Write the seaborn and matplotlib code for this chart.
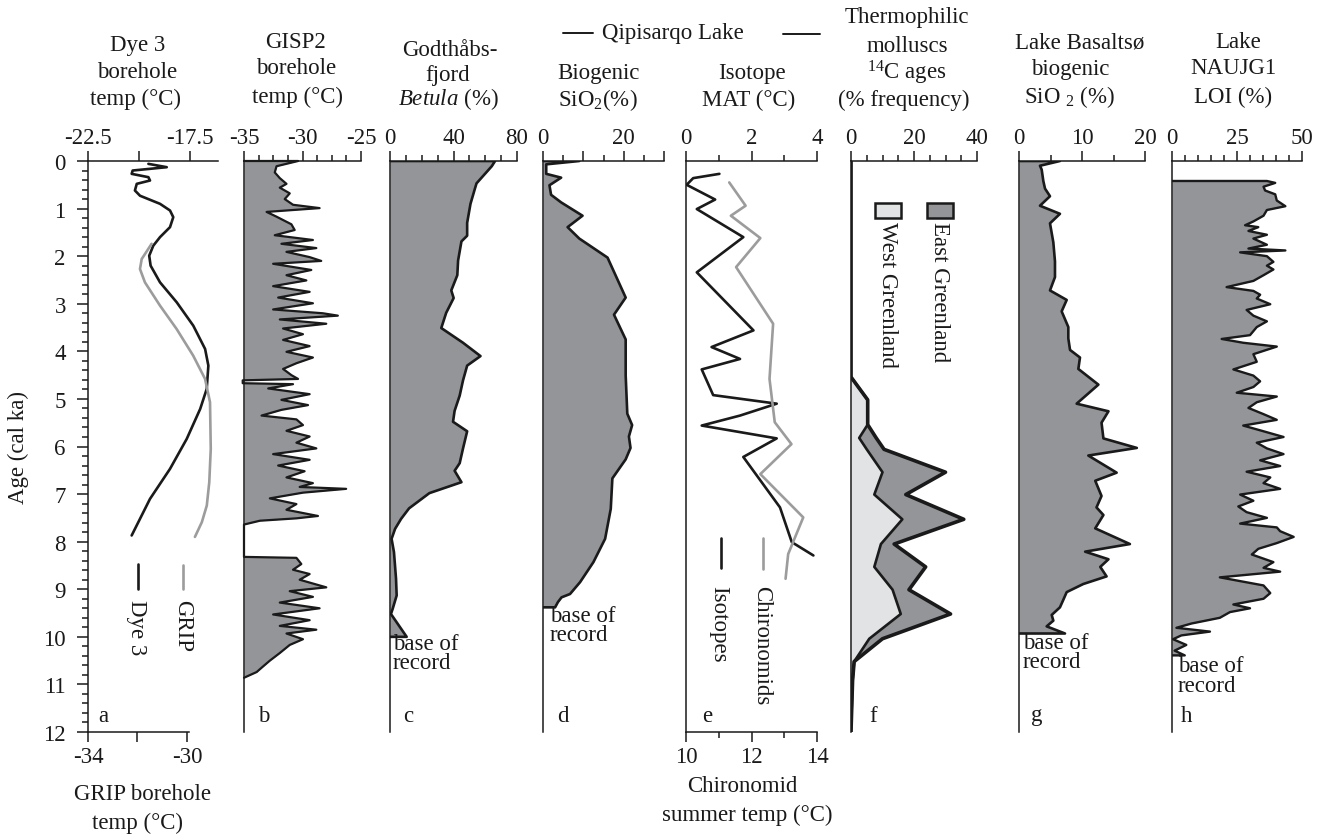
"""Holocene Greenland palaeoclimate records, stacked down-core panels a-h."""

import numpy as np
import matplotlib
matplotlib.use("Agg")
import matplotlib.pyplot as plt
from matplotlib.lines import Line2D
from matplotlib.patches import Rectangle
import seaborn as sns

# ---------------------------------------------------------------- data
# a: borehole temperatures (Dye 3 on top scale, GRIP on bottom scale)
dye3_age = [0.06, 0.13, 0.20, 0.27, 0.34, 0.41, 0.48, 0.62, 0.73, 0.90, 1.04, 1.18,
            1.39, 1.60, 1.78, 1.99, 2.20, 2.55, 2.97, 3.46, 3.95, 4.30, 4.79, 5.21,
            5.84, 6.47, 7.10, 7.87]
dye3_temp = [-19.54, -18.64, -20.31, -20.36, -19.54, -19.46, -20.11, -20.20, -19.95,
             -18.97, -18.48, -18.32, -18.48, -18.97, -19.30, -19.50, -19.43, -18.97,
             -18.15, -17.34, -16.76, -16.60, -16.68, -17.00, -17.66, -18.48, -19.46,
             -20.36]
grip_age = [1.74, 2.06, 2.27, 2.55, 3.04, 3.53, 4.09, 4.58, 5.07, 6.05, 6.75, 7.24, 7.59, 7.90]
grip_temp = [-31.43, -31.83, -31.90, -31.70, -31.09, -30.42, -29.75, -29.27, -29.07,
             -29.04, -29.10, -29.20, -29.40, -29.68]

# b: GISP2 borehole temperature
gisp_age = [0, 0.11, 0.24, 0.36, 0.48, 0.56, 0.68, 0.80, 0.92, 0.99,
            1.07, 1.17, 1.33, 1.45, 1.56, 1.66, 1.74, 1.83, 1.91, 2.02,
            2.10, 2.16, 2.29, 2.40, 2.51, 2.63, 2.75, 2.87, 2.99, 3.12,
            3.20, 3.25, 3.33, 3.42, 3.52, 3.64, 3.76, 3.89, 4.01, 4.13,
            4.25, 4.37, 4.50, 4.58, 4.61, 4.67, 4.69, 4.78, 4.90, 5.02,
            5.13, 5.23, 5.35, 5.43, 5.55, 5.67, 5.79, 5.92, 6.04, 6.16,
            6.28, 6.40, 6.52, 6.65, 6.77, 6.85, 6.89, 6.97, 7.09, 7.21,
            7.33, 7.46, 7.51, 7.56, 7.64, 8.32, 8.34, 8.47, 8.59, 8.68,
            8.80, 8.96, 9.04, 9.16, 9.28, 9.40, 9.53, 9.65, 9.77, 9.85,
            9.93, 10.05, 10.17, 10.34, 10.50, 10.62, 10.74, 10.86]
gisp_temp = [-30.38, -32.22, -32.37, -31.94, -31.37, -31.94, -31.09, -31.52, -30.81, -28.54,
             -33.07, -32.22, -30.95, -30.67, -32.37, -29.11, -31.80, -28.82, -31.37, -29.39,
             -28.40, -32.51, -29.25, -31.37, -29.67, -32.51, -29.39, -32.08, -29.11, -32.51,
             -28.26, -26.98, -31.94, -27.97, -31.66, -29.96, -31.66, -29.39, -31.37, -29.11,
             -30.52, -31.66, -30.95, -30.38, -35.11, -35.11, -30.81, -32.93, -29.39, -31.80,
             -29.53, -31.80, -33.50, -30.52, -29.96, -31.37, -29.39, -30.52, -28.82, -32.51,
             -29.39, -32.08, -29.82, -31.37, -29.11, -30.24, -26.27, -29.96, -32.79, -30.52,
             -31.37, -28.68, -30.52, -33.64, -35.00, -35.00, -30.52, -30.10, -30.81, -29.39,
             -30.24, -27.97, -31.09, -29.11, -31.94, -28.54, -32.51, -29.39, -31.94, -28.82,
             -31.37, -29.96, -31.09, -31.94, -32.79, -33.36, -33.92, -35.00]

# c: Godthåbsfjord Betula pollen
betula_age = [0.0, 0.11, 0.47, 0.58, 0.90, 1.30, 1.57, 1.69, 2.09, 2.40, 2.72, 2.88, 3.19,
              3.51, 3.82, 4.10, 4.30, 4.61, 4.93, 5.25, 5.48, 5.68, 6.04, 6.35, 6.51,
              6.75, 6.98, 7.30, 7.52, 7.73, 7.94, 8.22, 8.78, 9.13, 9.41, 9.52, 10.0]
betula_pct = [66.2, 64.1, 54.5, 53.5, 50.7, 48.6, 48.6, 45.0, 42.9, 42.4, 38.6, 40.1, 35.4,
              32.3, 46.0, 57.0, 48.6, 46.0, 43.9, 40.7, 39.7, 48.6, 46.0, 43.9, 40.7,
              45.0, 24.8, 12.0, 7.0, 3.2, 1.0, 2.5, 3.8, 4.2, 1.7, 0.6, 10.5]

# d: Qipisarqo Lake biogenic silica
qsio2_age = [0.0, 0.07, 0.27, 0.35, 0.51, 0.71, 0.87, 1.15, 1.39, 1.63, 2.03, 2.87, 3.23,
             3.75, 4.51, 5.31, 5.55, 5.79, 6.03, 6.27, 6.67, 7.31, 7.94, 8.43, 8.85, 9.10,
             9.17, 9.27, 9.38]
qsio2_pct = [9.0, 0.8, 0.8, 4.5, 1.6, 2.0, 4.5, 9.8, 6.1, 9.0, 16.0, 20.5, 17.6,
             20.5, 20.5, 20.9, 22.1, 21.3, 21.7, 20.5, 17.2, 16.8, 15.4, 12.5, 9.2, 6.7,
             4.6, 3.7, 3.0]

# e: Qipisarqo Lake isotope MAT (top scale) and chironomid summer temp (bottom scale)
iso_age = [0.27, 0.36, 0.50, 0.81, 1.01, 1.60, 2.34, 3.56, 3.91, 4.16, 4.38, 4.92, 5.10,
           5.35, 5.56, 5.83, 6.22, 7.28, 8.01, 8.29]
iso_mat = [1.02, 0.22, 0.02, 0.89, 0.33, 1.75, 0.33, 2.06, 0.78, 1.65, 0.48, 0.83, 2.77,
           1.65, 0.48, 2.77, 1.75, 2.87, 3.23, 3.89]
chir_age = [0.45, 0.94, 1.15, 1.62, 2.23, 3.42, 4.58, 5.49, 5.95, 6.58, 7.49, 8.26, 8.78]
chir_temp = [11.32, 11.82, 11.37, 12.27, 11.53, 12.66, 12.55, 12.71, 13.22, 12.27, 13.58,
             13.12, 13.04]

# f: thermophilic mollusc 14C ages (% frequency), West and East Greenland stacked
moll_age = [0, 4.54, 5.02, 5.54, 5.82, 6.06, 6.54, 7.01, 7.53, 8.05, 8.53, 9.01, 9.52,
            10.04, 10.52, 10.92, 12]
moll_west = [0, 0, 5.3, 5.3, 2.6, 5.0, 10.0, 7.4, 16.3, 9.5, 7.4, 13.2, 15.8, 5.8, 1.0, 0.5, 0]
moll_east = [0, 0, 0, 0, 5.4, 5.5, 20.0, 10.0, 19.5, 4.2, 16.3, 5.2, 15.8, 4.2, 0, 0, 0]

# g: Lake Basaltsø biogenic silica
bsio2_age = [0, 0.10, 0.18, 0.42, 0.58, 0.74, 0.94, 1.11, 1.31, 1.71, 2.11, 2.44, 2.72,
             2.92, 3.16, 3.49, 3.73, 3.97, 4.13, 4.37, 4.70, 5.10, 5.26, 5.50, 5.83, 6.03,
             6.19, 6.55, 6.72, 7.04, 7.28, 7.44, 7.72, 8.05, 8.21, 8.37, 8.53, 8.73, 8.89,
             9.06, 9.22, 9.38, 9.54, 9.66, 9.78, 9.93]
bsio2_pct = [6.5, 3.33, 3.6, 3.86, 4.13, 4.92, 3.33, 6.5, 4.92, 5.45, 5.71, 5.71, 4.92,
             7.57, 6.77, 7.83, 7.83, 8.1, 9.68, 9.42, 12.6, 9.15, 14.2, 13.1, 13.4, 18.7,
             11.0, 15.5, 12.1, 13.1, 12.3, 13.4, 12.1, 17.6, 10.5, 14.2, 12.9, 13.9, 10.2,
             7.57, 7.04, 6.5, 5.19, 5.45, 4.39, 7.3]

# h: Lake NAUJG1 loss on ignition
loi_age = [0.42, 0.46, 0.54, 0.62, 0.70, 0.83, 0.95, 1.03, 1.15, 1.27, 1.35, 1.39, 1.47,
           1.55, 1.63, 1.76, 1.84, 1.88, 1.92, 2.00, 2.12, 2.20, 2.28, 2.40, 2.52, 2.65,
           2.73, 2.81, 2.89, 3.01, 3.13, 3.25, 3.37, 3.49, 3.66, 3.74, 3.82, 3.90, 4.06,
           4.22, 4.38, 4.51, 4.63, 4.75, 4.87, 4.95, 5.07, 5.19, 5.32, 5.44, 5.56, 5.68,
           5.80, 5.92, 6.04, 6.16, 6.29, 6.41, 6.53, 6.65, 6.77, 6.89, 7.01, 7.14, 7.26,
           7.38, 7.50, 7.62, 7.70, 7.78, 7.90, 8.03, 8.15, 8.27, 8.43, 8.55, 8.63, 8.75,
           8.92, 9.08, 9.20, 9.32, 9.40, 9.48, 9.60, 9.72, 9.81, 9.89, 9.97, 10.05, 10.17,
           10.29, 10.39]
loi_pct = [36.5, 39.7, 35.2, 35.8, 39.7, 40.3, 43.6, 36.5, 35.2, 31.3, 28.1, 33.2, 29.4,
           36.5, 31.3, 36.5, 29.4, 43.6, 26.2, 36.5, 39.0, 36.5, 39.0, 35.2, 31.3, 21.0,
           31.3, 33.9, 32.6, 37.8, 28.7, 31.3, 36.5, 32.6, 30.0, 19.1, 27.4, 40.3, 31.3,
           32.6, 23.6, 31.3, 33.9, 31.3, 24.9, 40.3, 32.6, 29.4, 35.2, 40.3, 27.4, 35.2,
           42.9, 32.6, 36.5, 42.9, 33.9, 41.6, 28.7, 37.8, 35.2, 41.6, 26.2, 31.3, 25.5,
           28.7, 36.5, 26.2, 40.3, 41.6, 46.8, 40.3, 33.2, 30.7, 39.0, 35.2, 41.6, 18.4,
           35.2, 37.8, 35.2, 23.6, 30.0, 22.3, 18.4, 7.5, 1.7, 14.6, 3.6, 0.4, 5.5,
           1.0, 4.9]

# ---------------------------------------------------------------- style
W, H = 1326, 837
TOP, BOT = 162, 733          # pixel rows of age 0 and age 12
FS = 16.5
DARK = "#939598"
LIGHT = "#e2e3e4"
GREY_LINE = "#9c9c9c"

sns.set_theme(style="ticks")
plt.rcParams["font.family"] = ["Liberation Serif", "DejaVu Serif"]
plt.rcParams["mathtext.fontset"] = "custom"
plt.rcParams["mathtext.rm"] = "Liberation Serif"
plt.rcParams["mathtext.it"] = "Liberation Serif:italic"
plt.rcParams["mathtext.bf"] = "Liberation Serif:bold"
plt.rcParams["axes.unicode_minus"] = False
plt.rcParams["text.color"] = "k"

fig = plt.figure(figsize=(W / 100, H / 100), dpi=100, facecolor="white")


def fx(x):
    return x / W


def fy(y):
    return 1 - y / H


def ptext(x, y, s, **kw):
    kw.setdefault("ha", "center")
    kw.setdefault("va", "center")
    kw.setdefault("fontsize", FS)
    fig.text(fx(x), fy(y), s, **kw)


def vline(x, y0, y1, color="k", lw=1.9):
    fig.add_artist(Line2D([fx(x), fx(x)], [fy(y0), fy(y1)], color=color, lw=lw,
                          transform=fig.transFigure))


def hline(x0, x1, y, color="k", lw=1.4):
    fig.add_artist(Line2D([fx(x0), fx(x1)], [fy(y), fy(y)], color=color, lw=lw,
                          transform=fig.transFigure))


def panel(x0, x1, xlim, major, labels, minor=()):
    ax = fig.add_axes([fx(x0), fy(BOT), (x1 - x0) / W, (BOT - TOP) / H])
    ax.set_facecolor("none")
    ax.grid(False)
    ax.set_xlim(*xlim)
    ax.set_ylim(12, 0)
    for s in ("right", "bottom"):
        ax.spines[s].set_visible(False)
    for s in ("left", "top"):
        ax.spines[s].set_linewidth(1.1)
        ax.spines[s].set_color("k")
    ax.xaxis.set_ticks_position("top")
    ax.set_xticks(major, labels)
    ax.set_xticks(list(minor), minor=True)
    ax.tick_params(axis="x", which="both", direction="out", colors="k",
                   width=1.1, labelsize=FS, pad=2)
    ax.tick_params(axis="x", which="major", length=7)
    ax.tick_params(axis="x", which="minor", length=4)
    ax.set_yticks([])
    return ax


def filled(ax, vals, ages, x0, lw=1.9, **kw):
    vals = np.asarray(vals, float)
    ages = np.asarray(ages, float)
    ax.fill_betweenx(ages, x0, vals, color=DARK, lw=0)
    xs = np.r_[x0, vals, x0]
    ys = np.r_[ages[0], ages, ages[-1]]
    sns.lineplot(x=xs, y=ys, orient="y", sort=False, estimator=None,
                 color="k", lw=lw, ax=ax, **kw)


def curve(ax, vals, ages, color="k", lw=1.9):
    sns.lineplot(x=vals, y=ages, orient="y", sort=False, estimator=None,
                 color=color, lw=lw, ax=ax)


# ---------------------------------------------------------------- a
ax_a = panel(88, 218, (-22.5, -22.5 + 130 * 5 / 102), [-22.5, -20, -17.5],
             ["-22.5", "", "-17.5"])
ax_grip = ax_a.twiny()
ax_a.xaxis.set_ticks_position("top")
ax_grip.set_xlim(-34, -34 + 130 * 4 / 99)
ax_grip.set_ylim(12, 0)
ax_grip.grid(False)
ax_grip.xaxis.set_ticks_position("bottom")
for s in ("top", "right", "left"):
    ax_grip.spines[s].set_visible(False)
ax_grip.spines["bottom"].set_visible(True)
ax_grip.spines["bottom"].set_linewidth(1.1)
ax_grip.spines["bottom"].set_color("k")
ax_grip.spines["bottom"].set_bounds(-34, -29.9)
ax_grip.set_xticks([-34, -32, -30], ["-34", "", "-30"])
ax_grip.tick_params(axis="x", direction="out", length=7, width=1.1, colors="k",
                    labelsize=FS, pad=3)

ax_a.set_yticks(range(13))
ax_a.set_yticks(np.arange(0, 12.01, 0.2), minor=True)
ax_a.tick_params(axis="y", which="both", left=True, direction="out", colors="k",
                 width=1.1, labelsize=FS)
ax_a.tick_params(axis="y", which="major", length=8, pad=8)
ax_a.tick_params(axis="y", which="minor", length=4)

curve(ax_a, dye3_temp, dye3_age)
curve(ax_grip, grip_temp, grip_age, color=GREY_LINE)

# ---------------------------------------------------------------- b
ax_b = panel(244, 361, (-35, -25), [-35, -30, -25], ["-35", "-30", "-25"],
             minor=np.arange(-35, -24.9, 1.25))
filled(ax_b, gisp_temp, gisp_age, -35, lw=1.6, clip_on=False)

# ---------------------------------------------------------------- c
ax_c = panel(390, 517, (0, 80), [0, 40, 80], ["0", "40", "80"],
             minor=range(0, 81, 10))
filled(ax_c, betula_pct, betula_age, 0)

# ---------------------------------------------------------------- d
ax_d = panel(543, 664, (0, 30), [0, 10, 20, 30], ["0", "", "20", ""],
             minor=range(0, 31, 5))
filled(ax_d, qsio2_pct, qsio2_age, 0)

# ---------------------------------------------------------------- e
ax_e = panel(686, 817, (0, 4), [0, 2, 4], ["0", "2", "4"], minor=[1, 3])
ax_chir = ax_e.twiny()
ax_e.xaxis.set_ticks_position("top")
ax_chir.set_xlim(10, 14)
ax_chir.set_ylim(12, 0)
ax_chir.grid(False)
ax_chir.xaxis.set_ticks_position("bottom")
for s in ("top", "right", "left"):
    ax_chir.spines[s].set_visible(False)
ax_chir.spines["bottom"].set_visible(True)
ax_chir.spines["bottom"].set_linewidth(1.1)
ax_chir.spines["bottom"].set_color("k")
ax_chir.set_xticks([10, 12, 14], ["10", "12", "14"])
ax_chir.set_xticks([11, 13], minor=True)
ax_chir.tick_params(axis="x", which="both", direction="out", width=1.1, colors="k",
                    labelsize=FS, pad=3)
ax_chir.tick_params(axis="x", which="major", length=7)
ax_chir.tick_params(axis="x", which="minor", length=4)

curve(ax_chir, chir_temp, chir_age, color=GREY_LINE)
curve(ax_e, iso_mat, iso_age)

# ---------------------------------------------------------------- f
ax_f = panel(851, 977, (0, 40), [0, 20, 40], ["0", "20", "40"], minor=range(0, 41, 5))
west = np.asarray(moll_west, float)
total = west + np.asarray(moll_east, float)
ax_f.fill_betweenx(moll_age, 0, west, color=LIGHT, lw=0)
ax_f.fill_betweenx(moll_age, west, total, color=DARK, lw=0)
curve(ax_f, west, moll_age, lw=1.9)
curve(ax_f, total, moll_age, lw=2.6)

# ---------------------------------------------------------------- g
ax_g = panel(1019, 1145, (0, 20), [0, 10, 20], ["0", "10", "20"], minor=range(0, 21, 5))
filled(ax_g, bsio2_pct, bsio2_age, 0)

# ---------------------------------------------------------------- h
ax_h = panel(1172, 1302, (0, 50), [0, 25, 50], ["0", "25", "50"], minor=range(0, 51, 5))
filled(ax_h, loi_pct, loi_age, 0, lw=1.7)

# ---------------------------------------------------------------- titles
ptext(18, 448, "Age (cal ka)", rotation=90)

for x, y, s in [
    (138, 45, "Dye 3"), (137, 72, "borehole"), (136, 99, "temp (°C)"),
    (295, 42, "GISP2"), (296, 69, "borehole"), (297, 97, "temp (°C)"),
    (450, 50, "Godthåbs-"), (448, 75, "fjord"), (448, 99, r"$\mathit{Betula}$ (%)"),
    (673, 33, "Qipisarqo Lake"),
    (598, 73, "Biogenic"), (598, 100, r"SiO$_2$(%)"),
    (752, 73, "Isotope"), (749, 100, "MAT (°C)"),
    (907, 18, "Thermophilic"), (907, 46, "molluscs"), (907, 73, r"$^{14}$C ages"),
    (904, 100, "(% frequency)"),
    (1080, 43, "Lake Basaltsø"), (1070, 69, "biogenic"), (1070, 97, r"SiO $_2$ (%)"),
    (1238, 43, "Lake"), (1233, 69, "NAUJG1"), (1233, 97, "LOI (%)"),
    (143, 795, "GRIP borehole"), (137, 823, "temp (°C)"),
    (742, 787, "Chironomid"), (747, 815, "summer temp (°C)"),
]:
    ptext(x, y, s)

hline(563, 593, 34)
hline(783, 820, 35)

# panel letters
for x, s in [(103, "a"), (264, "b"), (408, "c"), (563, "d"), (707, "e"),
             (873, "f"), (1037, "g"), (1187, "h")]:
    ptext(x, 716, s)

# base of record notes
for x, y in [(393, 645), (550, 617), (1023, 644), (1178, 667)]:
    ptext(x, y, "base of", ha="left")
    ptext(x, y + 19, "record", ha="left")

# legends drawn inside panels a, e and f
vline(138, 565, 590)
vline(183, 566, 590, color=GREY_LINE)
ptext(137, 600, "Dye 3", rotation=270, va="top")
ptext(183, 600, "GRIP", rotation=270, va="top")

vline(721, 539, 569)
vline(763, 539, 570, color=GREY_LINE)
ptext(719, 586, "Isotopes", rotation=270, va="top")
ptext(762, 586, "Chironomids", rotation=270, va="top")

for x0, col in [(875, LIGHT), (927, DARK)]:
    fig.add_artist(Rectangle((fx(x0), fy(219)), 26 / W, 15 / H, facecolor=col,
                             edgecolor="k", lw=1.8, transform=fig.transFigure))
ptext(888, 222, "West Greenland", rotation=270, va="top")
ptext(939, 222, "East Greenland", rotation=270, va="top")

fig.savefig("out.png", dpi=100, facecolor="white")
plt.close(fig)
print("[OK] out.png")
